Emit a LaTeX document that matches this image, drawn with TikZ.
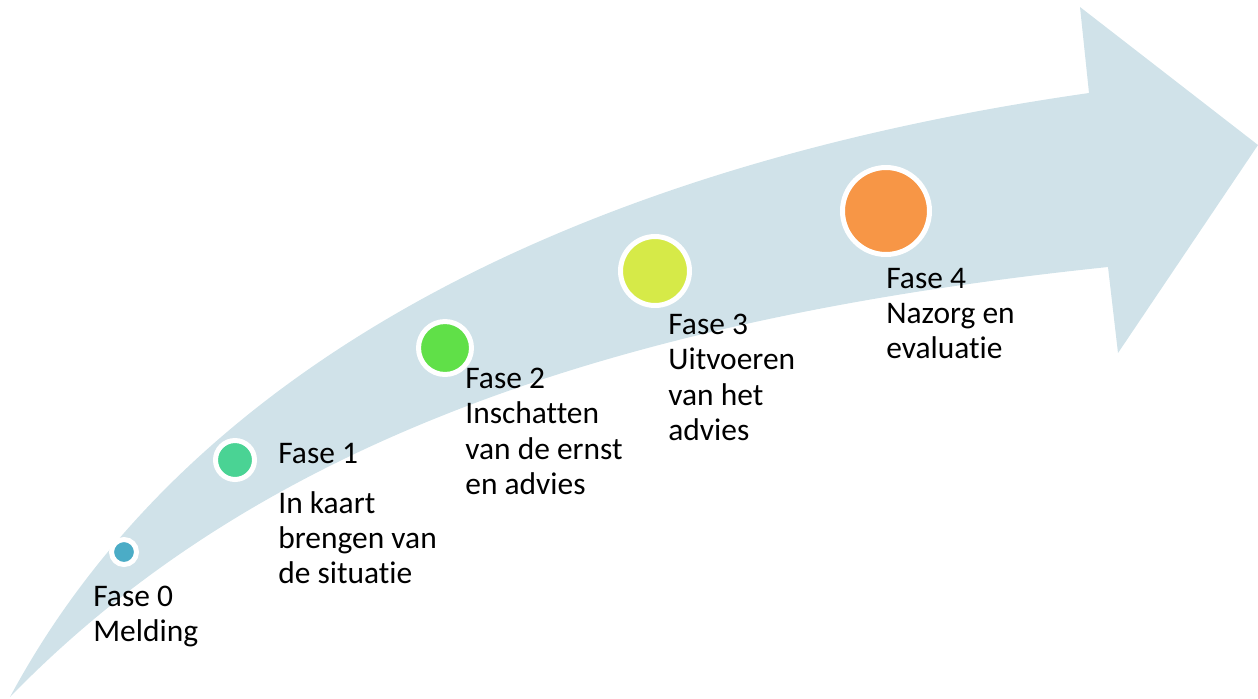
\documentclass[tikz,border=0pt]{standalone}
\usepackage{fontspec}
\setmainfont[Ligatures={NoCommon}]{Carlito}
\usepackage{tikz}
\definecolor{bandblue}{RGB}{208,226,233}
\definecolor{dotzero}{RGB}{75,172,198}
\definecolor{dotone}{RGB}{74,211,148}
\definecolor{dottwo}{RGB}{96,224,72}
\definecolor{dotthree}{RGB}{214,234,72}
\definecolor{dotfour}{RGB}{247,150,70}
\tikzstyle{phasedot} = [circle, draw=white, line width=2.85pt, inner sep=0pt]
\tikzstyle{phasetext} = [anchor=north west, inner sep=0pt, align=left,
    font=\fontsize{17.9}{20}\selectfont, text=black]

\begin{document}
\begin{tikzpicture}[x=0.02cm, y=-0.02cm]
                \useasboundingbox (0,0) rectangle (1258,698);
                % curved arrow
                \fill[bandblue] (10,697) .. controls (180,380) and (550,170) .. (1089,93)
                    -- (1080,7) -- (1258,145) -- (1118,353) -- (1108,267)
                    .. controls (600,320) and (250,450) .. cycle;
                % phases
                \node[phasedot, fill=dotzero, minimum size=0.5cm] (dot0) at (124,552) {};
                \node[phasedot, fill=dotone, minimum size=0.78cm] (dot1) at (235,460) {};
                \node[phasedot, fill=dottwo, minimum size=1.06cm] (dot2) at (445,348) {};
                \node[phasedot, fill=dotthree, minimum size=1.38cm] (dot3) at (655,271) {};
                \node[phasedot, fill=dotfour, minimum size=1.74cm] (dot4) at (886,211) {};
                \node[phasetext] (txt0) at (93,586) {Fase 0\\Melding};
                \node[phasetext] (txt1) at (278,443) {Fase 1\\[8.5pt]In kaart\\brengen van\\de situatie};
                \node[phasetext] (txt2) at (465,368) {Fase 2\\Inschatten\\van de ernst\\en advies};
                \node[phasetext] (txt3) at (668,314) {Fase 3\\Uitvoeren\\van het\\advies};
                \node[phasetext] (txt4) at (886,268) {Fase 4\\Nazorg en\\evaluatie};
            \end{tikzpicture}
\end{document}
